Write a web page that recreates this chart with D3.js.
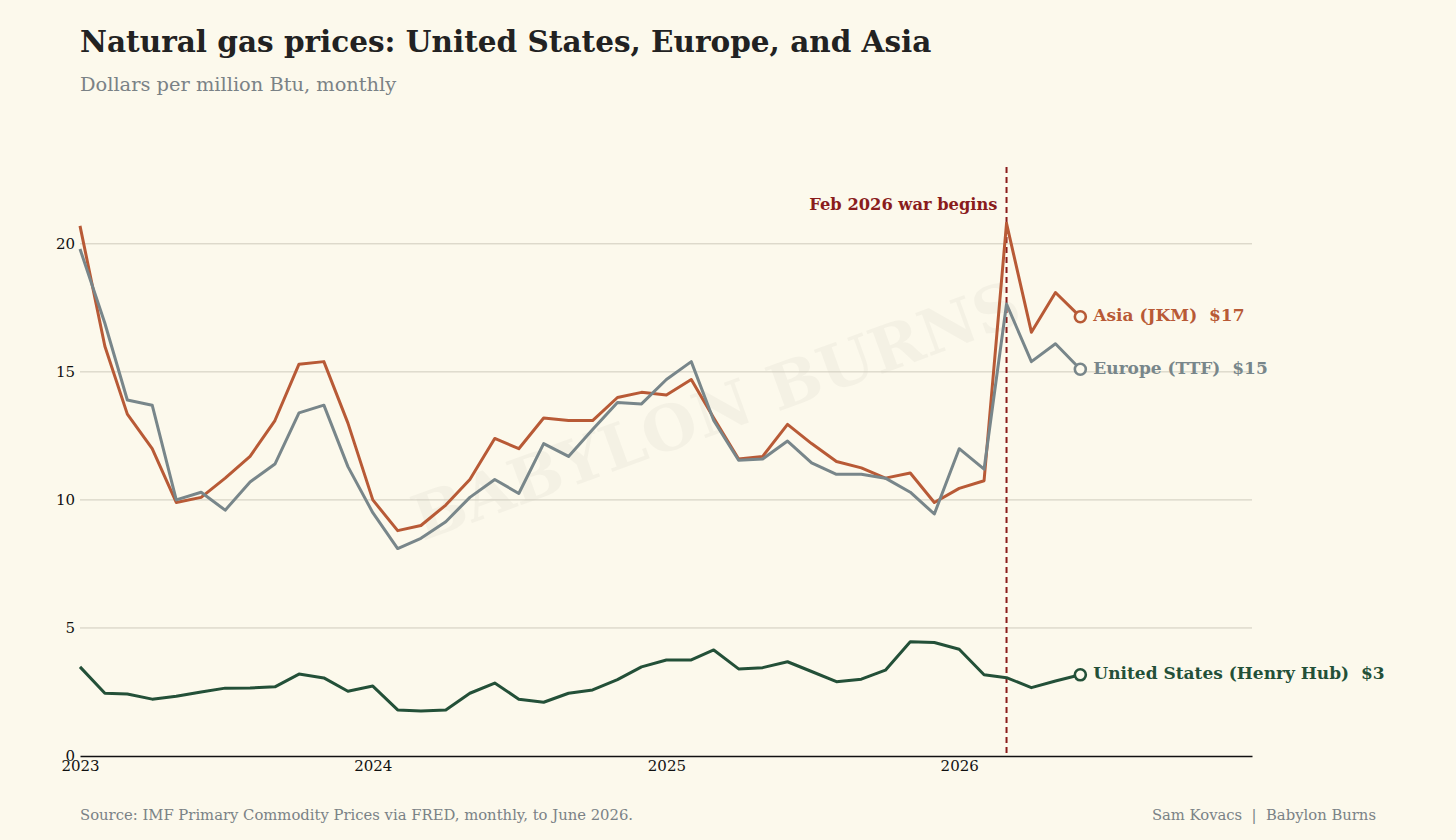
<!DOCTYPE html>
<html>
<head>
<meta charset="utf-8">
<script src="https://cdn.jsdelivr.net/npm/d3@7"></script>
<style>
  body { margin: 0; background: #fcf9ec; }
  svg { display: block; font-family: "DejaVu Serif", serif; }
</style>
</head>
<body>
<div id="wrapper"></div>
<script>
// monthly values, Jan 2023 .. Jun 2026
const asia = [20.7, 16.0, 13.35, 12.0, 9.9, 10.1, 10.85, 11.7, 13.1, 15.3, 15.4, 13.0,
  10.0, 8.8, 9.0, 9.8, 10.8, 12.4, 12.0, 13.2, 13.1, 13.1, 14.0, 14.2,
  14.1, 14.7, 13.2, 11.6, 11.7, 12.95, 12.2, 11.5, 11.25, 10.85, 11.05, 9.9,
  10.45, 10.75, 20.8, 16.55, 18.1, 17.15]
const europe = [19.8, 16.9, 13.9, 13.7, 10.0, 10.3, 9.6, 10.7, 11.4, 13.4, 13.7, 11.3,
  9.5, 8.1, 8.5, 9.15, 10.1, 10.8, 10.25, 12.2, 11.7, 12.75, 13.8, 13.75,
  14.7, 15.4, 13.1, 11.55, 11.6, 12.3, 11.45, 11.0, 11.0, 10.85, 10.3, 9.45,
  12.0, 11.2, 17.65, 15.4, 16.1, 15.1]
const us = [3.48, 2.45, 2.42, 2.22, 2.33, 2.5, 2.65, 2.66, 2.7, 3.2, 3.05, 2.53,
  2.73, 1.8, 1.76, 1.8, 2.45, 2.85, 2.22, 2.1, 2.45, 2.58, 2.98, 3.48,
  3.75, 3.75, 4.14, 3.4, 3.45, 3.68, 3.3, 2.9, 3.0, 3.35, 4.46, 4.43,
  4.17, 3.17, 3.06, 2.67, 2.93, 3.17]
const months = d3.timeMonth.range(new Date(2023, 0, 1), new Date(2026, 6, 1))

const seriesNames = ["Asia (JKM)", "Europe (TTF)", "United States (Henry Hub)"]
const seriesValues = [asia, europe, us]
const seriesColors = ["#b85a36", "#78868a", "#235038"]
const endLabels = ["$17", "$15", "$3"]

const yTicks = [0, 5, 10, 15, 20]
const xTicks = [2023, 2024, 2025, 2026]
const warDate = new Date(2026, 2, 1)
const warLabel = "Feb 2026 war begins"

// dimensions
const dimensions = {
  width: 1456,
  height: 840,
  margin: { top: 167, right: 204, bottom: 84, left: 80 }
}
dimensions.boundedWidth = dimensions.width - dimensions.margin.left - dimensions.margin.right
dimensions.boundedHeight = dimensions.height - dimensions.margin.top - dimensions.margin.bottom

const wrapper = d3.select("#wrapper")
  .append("svg")
  .attr("width", dimensions.width)
  .attr("height", dimensions.height)

wrapper.append("rect")
  .attr("width", dimensions.width)
  .attr("height", dimensions.height)
  .attr("fill", "#fcf9ec")

// title block
wrapper.append("text")
  .attr("x", 80).attr("y", 52)
  .attr("fill", "#222")
  .style("font-size", "29.5px")
  .style("font-weight", "bold")
  .text("Natural gas prices: United States, Europe, and Asia")

wrapper.append("text")
  .attr("x", 80).attr("y", 91)
  .attr("fill", "#7a8286")
  .style("font-size", "19.4px")
  .text("Dollars per million Btu, monthly")

// watermark
wrapper.append("text")
  .attr("transform", "translate(718, 416) rotate(-20)")
  .attr("text-anchor", "middle")
  .attr("dominant-baseline", "middle")
  .attr("fill", "#000")
  .attr("fill-opacity", 0.03)
  .style("font-size", "63px")
  .style("font-weight", "bold")
  .text("BABYLON BURNS")

const bounds = wrapper.append("g")
  .attr("transform", `translate(${dimensions.margin.left}, ${dimensions.margin.top})`)

// scales
const xScale = d3.scaleTime()
  .domain([new Date(2023, 0, 1), new Date(2027, 0, 1)])
  .range([0, dimensions.boundedWidth])

const yScale = d3.scaleLinear()
  .domain([0, 23])
  .range([dimensions.boundedHeight, 0])

// grid
bounds.append("g")
  .selectAll("line")
  .data(yTicks.filter(d => d > 0))
  .join("line")
  .attr("x1", 0)
  .attr("x2", dimensions.boundedWidth)
  .attr("y1", d => yScale(d))
  .attr("y2", d => yScale(d))
  .attr("stroke", "#cfcbbd")
  .attr("stroke-width", 1)

// axes
const yAxis = bounds.append("g")
  .call(d3.axisLeft(yScale).tickValues(yTicks).tickSize(0).tickPadding(5))
yAxis.select(".domain").remove()
yAxis.selectAll("text")
  .attr("fill", "#111")
  .style("font-family", "DejaVu Serif")
  .style("font-size", "15px")

const xAxis = bounds.append("g")
  .attr("transform", `translate(0, ${dimensions.boundedHeight})`)
  .call(d3.axisBottom(xScale)
    .tickValues(xTicks.map(y => new Date(y, 0, 1)))
    .tickFormat(d3.timeFormat("%Y"))
    .tickSize(0).tickPadding(4))
xAxis.select(".domain")
  .attr("stroke", "#111")
  .attr("stroke-width", 1.6)
xAxis.selectAll("text")
  .attr("fill", "#111")
  .style("font-family", "DejaVu Serif")
  .style("font-size", "15px")

// war marker
bounds.append("line")
  .attr("x1", xScale(warDate)).attr("x2", xScale(warDate))
  .attr("y1", 0).attr("y2", dimensions.boundedHeight)
  .attr("stroke", "#8a1c1c")
  .attr("stroke-width", 2)
  .attr("stroke-dasharray", "6,4")

bounds.append("text")
  .attr("x", xScale(warDate) - 9)
  .attr("y", yScale(21.5))
  .attr("text-anchor", "end")
  .attr("dominant-baseline", "middle")
  .attr("fill", "#8a1c1c")
  .style("font-size", "16.3px")
  .style("font-weight", "bold")
  .text(warLabel)

// lines
const lineGenerator = d3.line()
  .x((d, i) => xScale(months[i]))
  .y(d => yScale(d))

seriesValues.forEach((values, k) => {
  bounds.append("path")
    .datum(values)
    .attr("d", lineGenerator)
    .attr("fill", "none")
    .attr("stroke", seriesColors[k])
    .attr("stroke-width", 3)
    .attr("stroke-linejoin", "round")

  const last = values.length - 1
  const cx = xScale(months[last])
  const cy = yScale(values[last])

  bounds.append("circle")
    .attr("cx", cx).attr("cy", cy)
    .attr("r", 5.5)
    .attr("fill", "#fcf9ec")
    .attr("stroke", seriesColors[k])
    .attr("stroke-width", 2.6)

  bounds.append("text")
    .attr("x", cx + 13)
    .attr("y", cy)
    .attr("dominant-baseline", "middle")
    .attr("fill", seriesColors[k])
    .style("font-size", "17px")
    .style("font-weight", "bold")
    .style("white-space", "pre")
    .text(`${seriesNames[k]}  ${endLabels[k]}`)
})

// footer
wrapper.append("text")
  .attr("x", 80).attr("y", 820)
  .attr("fill", "#7a8286")
  .style("font-size", "14.8px")
  .text("Source: IMF Primary Commodity Prices via FRED, monthly, to June 2026.")

wrapper.append("text")
  .attr("x", 1376).attr("y", 820)
  .attr("text-anchor", "end")
  .attr("fill", "#7a8286")
  .style("font-size", "14.8px")
  .style("white-space", "pre")
  .text("Sam Kovacs  |  Babylon Burns")
</script>
</body>
</html>
